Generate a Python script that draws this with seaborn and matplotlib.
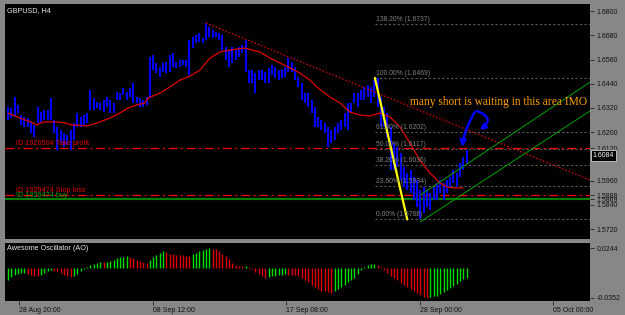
import numpy as np
import matplotlib
matplotlib.use("Agg")
import matplotlib.pyplot as plt
import matplotlib.transforms as mtransforms
import seaborn as sns

# ---------------- data ----------------
symbol_title = "GBPUSD, H4"
osc_title = "Awesome Oscillator (AO)"

bar_high = [
    1.6325, 1.6320, 1.6374, 1.6335, 1.6285, 1.6275, 1.6270, 1.6251, 1.6236, 1.6325,
    1.6300, 1.6310, 1.6310, 1.6369, 1.6260, 1.6226, 1.6211, 1.6196, 1.6186, 1.6211,
    1.6246, 1.6295, 1.6275, 1.6285, 1.6295, 1.6409, 1.6369, 1.6350, 1.6345, 1.6359,
    1.6374, 1.6359, 1.6345, 1.6399, 1.6394, 1.6419, 1.6399, 1.6419, 1.6444, 1.6374,
    1.6369, 1.6359, 1.6374, 1.6572, 1.6582, 1.6543, 1.6523, 1.6543, 1.6548, 1.6582,
    1.6592, 1.6548, 1.6557, 1.6557, 1.6557, 1.6656, 1.6671, 1.6681, 1.6691, 1.6666,
    1.6741, 1.6721, 1.6706, 1.6696, 1.6691, 1.6681, 1.6622, 1.6607, 1.6622, 1.6607,
    1.6622, 1.6632, 1.6656, 1.6508, 1.6508, 1.6493, 1.6508, 1.6508, 1.6498, 1.6518,
    1.6533, 1.6523, 1.6508, 1.6508, 1.6523, 1.6567, 1.6548, 1.6523, 1.6473, 1.6444,
    1.6394, 1.6394, 1.6359, 1.6325, 1.6275, 1.6260, 1.6246, 1.6226, 1.6211, 1.6226,
    1.6246, 1.6260, 1.6295, 1.6345, 1.6345, 1.6394, 1.6394, 1.6409, 1.6424, 1.6434,
    1.6424, 1.6458, 1.6469, 1.6374, 1.6325, 1.6295, 1.6226, 1.6147, 1.6127, 1.6097,
    1.6028, 1.5998, 1.6013, 1.5978, 1.5963, 1.5914, 1.5929, 1.5914, 1.5899, 1.5929,
    1.5949, 1.5963, 1.5949, 1.5963, 1.5978, 1.6013, 1.5998, 1.6048, 1.6077, 1.6112,
]
bar_low = [
    1.6260, 1.6270, 1.6275, 1.6295, 1.6236, 1.6226, 1.6226, 1.6196, 1.6176, 1.6246,
    1.6251, 1.6260, 1.6260, 1.6260, 1.6196, 1.6112, 1.6147, 1.6127, 1.6137, 1.6112,
    1.6161, 1.6226, 1.6226, 1.6236, 1.6246, 1.6310, 1.6310, 1.6320, 1.6310, 1.6300,
    1.6325, 1.6295, 1.6295, 1.6359, 1.6359, 1.6384, 1.6359, 1.6374, 1.6345, 1.6345,
    1.6325, 1.6325, 1.6335, 1.6369, 1.6508, 1.6493, 1.6473, 1.6498, 1.6493, 1.6498,
    1.6523, 1.6518, 1.6523, 1.6533, 1.6523, 1.6483, 1.6617, 1.6642, 1.6647, 1.6642,
    1.6656, 1.6671, 1.6666, 1.6671, 1.6656, 1.6607, 1.6557, 1.6523, 1.6543, 1.6557,
    1.6572, 1.6592, 1.6498, 1.6444, 1.6444, 1.6394, 1.6458, 1.6458, 1.6444, 1.6444,
    1.6483, 1.6468, 1.6458, 1.6468, 1.6473, 1.6498, 1.6498, 1.6458, 1.6424, 1.6359,
    1.6345, 1.6325, 1.6295, 1.6226, 1.6226, 1.6211, 1.6196, 1.6127, 1.6147, 1.6161,
    1.6196, 1.6211, 1.6226, 1.6211, 1.6295, 1.6345, 1.6325, 1.6359, 1.6359, 1.6374,
    1.6345, 1.6374, 1.6325, 1.6226, 1.6226, 1.6176, 1.6013, 1.6013, 1.6028, 1.5963,
    1.5929, 1.5914, 1.5899, 1.5864, 1.5830, 1.5768, 1.5800, 1.5830, 1.5815, 1.5864,
    1.5864, 1.5899, 1.5864, 1.5899, 1.5929, 1.5949, 1.5929, 1.5978, 1.6013, 1.6048,
]

ma_idx = [0, 3.6, 7.6, 8.8, 10.6, 14.8, 17.3, 19.4, 23.9, 27, 30.9, 33.9, 36.4, 39.1,
          41.5, 42.4, 46.1, 49.1, 52.1, 55.2, 58.2, 61.2, 64.2, 67.3, 71.8, 76.4, 79.4,
          82.4, 85.5, 88.5, 91.5, 93.6, 97.6, 100.6, 103.6, 106.7, 109.7, 112.7, 115.8,
          118.8, 121.8, 124.8, 127.9, 130.9, 133, 134.8, 137.9]
ma_val = [1.6295, 1.6270, 1.6246, 1.6236, 1.6251, 1.6251, 1.6246, 1.6236, 1.6231, 1.6246,
          1.6270, 1.6295, 1.6320, 1.6335, 1.6345, 1.6369, 1.6394, 1.6424, 1.6458, 1.6478,
          1.6508, 1.6567, 1.6597, 1.6607, 1.6617, 1.6597, 1.6567, 1.6543, 1.6518, 1.6493,
          1.6458, 1.6424, 1.6374, 1.6345, 1.6300, 1.6285, 1.6280, 1.6295, 1.6275, 1.6226,
          1.6147, 1.6062, 1.5998, 1.5949, 1.5929, 1.5924, 1.5924]

ao_values = [
    -0.0143, -0.0102, -0.0077, -0.0061, -0.0057, -0.0053, -0.0069, -0.0081, -0.0085, -0.0090,
    -0.0081, -0.0053, -0.0032, -0.0020, -0.0028, -0.0036, -0.0057, -0.0077, -0.0094, -0.0102,
    -0.0090, -0.0061, -0.0036, -0.0012, 0.0013, 0.0038, 0.0054, 0.0070, 0.0083, 0.0079,
    0.0083, 0.0091, 0.0103, 0.0120, 0.0132, 0.0140, 0.0144, 0.0136, 0.0124, 0.0107,
    0.0091, 0.0075, 0.0062, 0.0103, 0.0136, 0.0161, 0.0189, 0.0214, 0.0193, 0.0177,
    0.0169, 0.0165, 0.0161, 0.0157, 0.0152, 0.0148, 0.0169, 0.0185, 0.0206, 0.0222,
    0.0234, 0.0244, 0.0234, 0.0230, 0.0206, 0.0177, 0.0148, 0.0115, 0.0062, 0.0046,
    0.0034, 0.0025, 0.0029, 0.0013, -0.0008, -0.0040, -0.0061, -0.0085, -0.0110, -0.0102,
    -0.0094, -0.0085, -0.0077, -0.0073, -0.0069, -0.0073, -0.0077, -0.0081, -0.0090, -0.0110,
    -0.0135, -0.0159, -0.0192, -0.0221, -0.0241, -0.0266, -0.0274, -0.0283, -0.0287, -0.0274,
    -0.0246, -0.0217, -0.0192, -0.0164, -0.0139, -0.0119, -0.0065, -0.0015, 0.0020, 0.0040,
    0.0050, 0.0058, 0.0045, 0.0015, -0.0020, -0.0055, -0.0085, -0.0119, -0.0143, -0.0168,
    -0.0192, -0.0217, -0.0242, -0.0266, -0.0291, -0.0315, -0.0336, -0.0352, -0.0345, -0.0333,
    -0.0324, -0.0303, -0.0283, -0.0258, -0.0233, -0.0209, -0.0180, -0.0151, -0.0127, -0.0110,
]

fib_pct = ["138.20%", "100.00%", "61.80%", "50.00%", "38.20%", "23.60%", "0.00%"]
fib_price = [1.6737, 1.6469, 1.6202, 1.6117, 1.6036, 1.5934, 1.5768]
fib_anchor_idx = [111.2, 121.0]          # 100% high bar -> 0% low bar
fib_anchor_val = [1.6469, 1.5768]

trend_idx = [60, 176.4]
trend_val = [1.6741, 1.5963]
chan_up_idx = [125, 176.4]
chan_up_val = [1.5889, 1.6448]
chan_lo_idx = [125, 176.4]
chan_lo_val = [1.5756, 1.6305]

take_profit = 1.6120
stop_loss = 1.5888
buy_price = 1.5869
current_price = 1.6084
tp_label = "ID 1926504 Take profit"
sl_label = "ID 1929474 Stop loss"
buy_label = "ID 1929474 buy"
note_text = "many short is waiting in this area IMO"

price_ticks = [1.6800, 1.6680, 1.6560, 1.6440, 1.6320, 1.6200, 1.5960, 1.5840, 1.5720]
ao_ticks = [0.0244, -0.0352]
date_labels = ["28 Aug 20:00", "08 Sep 12:00", "17 Sep 08:00", "28 Sep 00:00", "05 Oct 00:00"]
date_idx = [3.3, 43.9, 84.2, 124.8, 165.2]

# ---------------- style ----------------
BG = "#878787"
sns.set_theme(style="dark", rc={"axes.facecolor": "black", "figure.facecolor": BG,
                                "axes.grid": False})
plt.rcParams['font.family'] = ['Liberation Sans', 'DejaVu Sans']

W, H = 625, 315
fig = plt.figure(figsize=(6.25, 3.15), dpi=100)
fig.patch.set_facecolor(BG)
ax = fig.add_axes([5 / W, 1 - 239 / H, 585 / W, 235 / H])
ax2 = fig.add_axes([5 / W, 1 - 301 / H, 585 / W, 58 / H], sharex=ax)
for a in (ax, ax2):
    a.set_facecolor("black")
    for s in a.spines.values():
        s.set_visible(False)
    a.grid(False)

idx = np.arange(len(bar_high))
ax.set_xlim(-0.91, 176.4)
ax.set_ylim(1.5671, 1.6835)
ax2.set_ylim(-0.0388, 0.0304)

bl = mtransforms.blended_transform_factory(ax.transAxes, ax.transData)

# fibonacci levels
xr = ax.get_xlim()[1]
ax.hlines(fib_price, fib_anchor_idx[0], xr, colors="#5a5a5a", linestyles=(0, (2, 2)), lw=0.8)
for pct, pr in zip(fib_pct, fib_price):
    ax.text(fib_anchor_idx[0] + 0.2, pr + 0.0005, f"{pct} ({pr:.4f})", color="#808080",
            fontsize=4.9, va="bottom", ha="left")

# order lines
ax.axhline(take_profit, color="#ff0000", lw=0.9, ls=(0, (7, 3, 1.5, 3)))
ax.axhline(buy_price, color="#008000", lw=1.6)
ax.axhline(stop_loss, color="#ff0000", lw=0.9, ls=(0, (7, 3, 1.5, 3)))
ax.text(0.019, take_profit + 0.0007, tp_label, transform=bl, color="#e00000", fontsize=5.2, va="bottom")
ax.text(0.019, buy_price + 0.0001, buy_label, transform=bl, color="#00a000", fontsize=5.2, va="bottom")
ax.text(0.019, stop_loss + 0.0007, sl_label, transform=bl, color="#e00000", fontsize=5.2, va="bottom")

# price bars
ax.vlines(idx, bar_low, bar_high, colors="#0000ff", lw=1.5)

# moving average
sns.lineplot(x=ma_idx, y=ma_val, ax=ax, color="#e00000", lw=0.9, legend=False, sort=False)

# trend lines
ax.plot(trend_idx, trend_val, color="#e00000", lw=0.9, ls=(0, (1.2, 1.6)))
ax.plot(chan_up_idx, chan_up_val, color="#00a000", lw=0.7)
ax.plot(chan_lo_idx, chan_lo_val, color="#00a000", lw=0.7)
ax.plot(fib_anchor_idx, fib_anchor_val, color="#ffff00", lw=1.6)

# note and arrows
ax.text(121.8, 1.6350, note_text, color="#ffa000", fontsize=8.3,
        family=["Liberation Serif", "DejaVu Serif"], va="center", ha="left")
ax.annotate("", xy=(137.6, 1.6127), xytext=(141.5, 1.6300),
            arrowprops=dict(arrowstyle="-|>", color="#0000ff", lw=1.8, mutation_scale=9,
                            shrinkA=0, shrinkB=0, connectionstyle="arc3,rad=0.1"))
ax.annotate("", xy=(143.0, 1.6211), xytext=(142.1, 1.6305),
            arrowprops=dict(arrowstyle="-|>", color="#0000ff", lw=1.8, mutation_scale=8,
                            shrinkA=0, shrinkB=0, connectionstyle="arc3,rad=-0.9"))

# titles
ax.text(0.004, 0.985, symbol_title, transform=ax.transAxes, color="#e8e8e8", fontsize=5.2,
        va="top", ha="left")

# right price axis
ax.yaxis.tick_right()
yt = price_ticks + [take_profit, stop_loss, buy_price]
ax.set_yticks(yt)
ax.set_yticklabels([f"{v:.4f}" for v in yt])
ax.tick_params(axis="y", right=True, left=False, labelsize=5, labelcolor="#111111",
               length=3, width=0.6, color="#222222", pad=2)
ax.tick_params(axis="x", bottom=False, labelbottom=False)
ax.text(1.0045, current_price, f"{current_price:.4f}", transform=bl, color="white",
        fontsize=5, va="center", ha="left",
        bbox=dict(boxstyle="square,pad=0.25", fc="black", ec="#d0d0d0", lw=0.6))

# awesome oscillator
ao = np.array(ao_values)
ao_col = ["#00e000" if (i == 0 or ao[i] > ao[i - 1]) else "#e00000" for i in range(len(ao))]
ax2.vlines(idx, 0, ao, colors=ao_col, lw=1.0)
ax2.text(0.003, 0.965, osc_title, transform=ax2.transAxes, color="#e8e8e8", fontsize=5.2,
         va="top", ha="left")
ax2.yaxis.tick_right()
ax2.set_yticks(ao_ticks)
ax2.set_yticklabels([f"{v:.4f}" for v in ao_ticks])
ax2.tick_params(axis="y", right=True, left=False, labelsize=5, labelcolor="#111111",
                length=3, width=0.6, color="#222222", pad=2)
ax2.set_xticks(date_idx)
ax2.set_xticklabels(date_labels, ha="left")
ax2.tick_params(axis="x", bottom=True, labelsize=5, labelcolor="#111111", length=3,
                width=0.6, color="#222222", pad=1.5)

fig.savefig("out.png", dpi=100, facecolor=BG)
